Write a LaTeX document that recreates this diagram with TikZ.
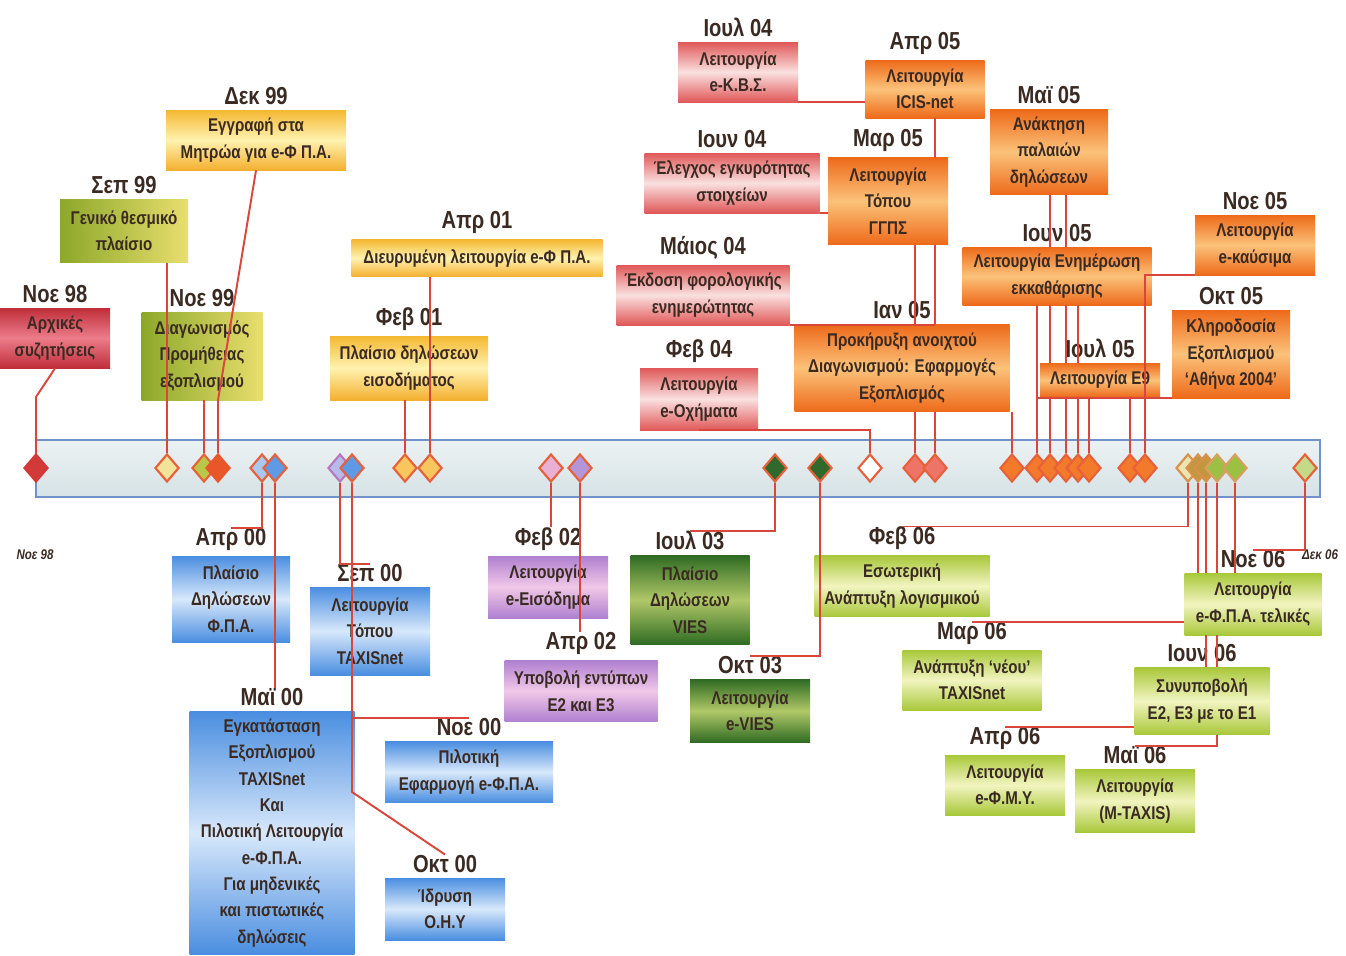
\documentclass[tikz,border=0pt]{standalone}
\usepackage{fontspec}
\setmainfont[FakeStretch=0.82]{Liberation Sans}
\usepackage{tikz}
\usetikzlibrary{shapes.geometric, positioning}

\definecolor{lineRed}{HTML}{D9463C}
\definecolor{txtDark}{HTML}{3A2A22}
\definecolor{axisBlue}{HTML}{6F93C9}
\definecolor{msOrange}{HTML}{F27A2A}
\definecolor{msEdge}{HTML}{E8603A}

\tikzstyle{conn} = [draw=lineRed, line width=1.1pt]
\tikzstyle{event} = [rectangle, align=center, inner sep=1pt, text=txtDark, font=\fontsize{10.5}{15}\selectfont\bfseries]
\tikzstyle{datelabel} = [inner sep=0pt, text=txtDark, font=\fontsize{14}{16}\selectfont\bfseries]
\tikzstyle{endlabel} = [inner sep=0pt, text=txtDark, font=\fontsize{8}{9}\selectfont\bfseries\itshape]
\tikzstyle{milestone} = [diamond, inner sep=0pt, minimum width=4.8mm, minimum height=5.6mm, line width=1.2pt]
\tikzstyle{timebar} = [draw=axisBlue, line width=1.4pt, top color={rgb,255:red,236;green,242;blue,243}, bottom color={rgb,255:red,214;green,226;blue,230}]
\tikzstyle{redBox} = [event, top color={rgb,255:red,192;green,46;blue,58}, bottom color={rgb,255:red,192;green,46;blue,58}, middle color={rgb,255:red,236;green,124;blue,138}]
\tikzstyle{oliveBox} = [event, left color={rgb,255:red,140;green,168;blue,42}, right color={rgb,255:red,232;green,222;blue,110}]
\tikzstyle{yellowBox} = [event, top color={rgb,255:red,244;green,184;blue,48}, bottom color={rgb,255:red,244;green,176;blue,48}, middle color={rgb,255:red,255;green,242;blue,176}]
\tikzstyle{pinkBox} = [event, top color={rgb,255:red,224;green,88;blue,88}, bottom color={rgb,255:red,224;green,88;blue,88}, middle color={rgb,255:red,250;green,224;blue,224}]
\tikzstyle{orangeBox} = [event, top color={rgb,255:red,238;green,106;blue,26}, bottom color={rgb,255:red,238;green,106;blue,26}, middle color={rgb,255:red,251;green,194;blue,122}]
\tikzstyle{blueBox} = [event, top color={rgb,255:red,74;green,142;blue,224}, bottom color={rgb,255:red,74;green,142;blue,224}, middle color={rgb,255:red,216;green,232;blue,251}]
\tikzstyle{purpleBox} = [event, top color={rgb,255:red,176;green,128;blue,208}, bottom color={rgb,255:red,176;green,128;blue,208}, middle color={rgb,255:red,240;green,200;blue,232}]
\tikzstyle{greenBox} = [event, top color={rgb,255:red,47;green,107;blue,34}, bottom color={rgb,255:red,47;green,107;blue,34}, middle color={rgb,255:red,176;green,200;blue,104}]
\tikzstyle{limeBox} = [event, top color={rgb,255:red,168;green,200;blue,58}, bottom color={rgb,255:red,168;green,200;blue,58}, middle color={rgb,255:red,242;green,244;blue,192}]
\tikzset{sz/.style 2 args={minimum width=#1*0.2mm, minimum height=#2*0.2mm}}

\begin{document}
\begin{tikzpicture}[x=0.2mm, y=-0.2mm]
\useasboundingbox (0,0) rectangle (1346,955);
% time axis
\path[timebar] (36,440) rectangle (1320,497);
\node (lStart) [endlabel] at (35,555) {Νοε 98};
\node (lEnd) [endlabel] at (1320,555) {Δεκ 06};

% events above the axis
\node (bNov98) [redBox, sz={110}{60}] at (55,338) {Αρχικές\\συζητήσεις};
\node (bSep99) [oliveBox, sz={128}{63}] at (124,231) {Γενικό θεσμικό\\πλαίσιο};
\node (bDec99) [yellowBox, sz={180}{60}] at (256,140) {Εγγραφή στα\\Μητρώα για e-Φ Π.Α.};
\node (bNov99) [oliveBox, sz={121}{88}] at (202,356) {Διαγωνισμός\\Προμήθειας\\εξοπλισμού};
\node (bApr01) [yellowBox, sz={251}{37}] at (477,258) {Διευρυμένη λειτουργία e-Φ Π.Α.};
\node (bFeb01) [yellowBox, sz={158}{64}] at (409,368) {Πλαίσιο δηλώσεων\\εισοδήματος};
\node (bJul04) [pinkBox, sz={120}{60}] at (738,72) {Λειτουργία\\e-Κ.Β.Σ.};
\node (bJun04) [pinkBox, sz={175}{60}] at (732,183) {Έλεγχος εγκυρότητας\\στοιχείων};
\node (bMay04) [pinkBox, sz={173}{60}] at (703,295) {Έκδοση φορολογικής\\ενημερώτητας};
\node (bFeb04) [pinkBox, sz={118}{62}] at (699,399) {Λειτουργία\\e-Οχήματα};
\node (bApr05) [orangeBox, sz={119}{58}] at (925,89) {Λειτουργία\\ICIS-net};
\node (bMar05) [orangeBox, sz={120}{87}] at (888,201) {Λειτουργία\\Τόπου\\ΓΓΠΣ};
\node (bMay05) [orangeBox, sz={118}{85}] at (1049,152) {Ανάκτηση\\παλαιών\\δηλώσεων};
\node (bJun05) [orangeBox, sz={189}{58}] at (1057,276) {Λειτουργία Ενημέρωση\\εκκαθάρισης};
\node (bNov05) [orangeBox, sz={120}{60}] at (1255,245) {Λειτουργία\\e-καύσιμα};
\node (bOct05) [orangeBox, sz={118}{88}] at (1231,354) {Κληροδοσία\\Εξοπλισμού\\`Αθήνα 2004'};
\node (bJul05) [orangeBox, sz={120}{34}] at (1100,380) {Λειτουργία Ε9};
\node (bJan05) [orangeBox, sz={215}{87}] at (902,368) {Προκήρυξη ανοιχτού\\Διαγωνισμού: Εφαρμογές\\Εξοπλισμός};

% events below the axis
\node (bApr00) [blueBox, sz={118}{86}] at (231,599) {Πλαίσιο\\Δηλώσεων\\Φ.Π.Α.};
\node (bSep00) [blueBox, sz={120}{88}] at (370,631) {Λειτουργία\\Τόπου\\TAXISnet};
\node (bMay00) [blueBox, sz={165}{243}] at (272,833) {Εγκατάσταση\\Εξοπλισμού\\TAXISnet\\Και\\Πιλοτική Λειτουργία\\e-Φ.Π.Α.\\Για μηδενικές\\και πιστωτικές\\δηλώσεις};
\node (bNov00) [blueBox, sz={168}{61}] at (469,772) {Πιλοτική\\Εφαρμογή e-Φ.Π.Α.};
\node (bOct00) [blueBox, sz={120}{62}] at (445,909) {Ίδρυση\\Ο.Η.Υ};
\node (bFeb02) [purpleBox, sz={120}{62}] at (548,587) {Λειτουργία\\e-Εισόδημα};
\node (bApr02) [purpleBox, sz={153}{61}] at (581,691) {Υποβολή εντύπων\\Ε2 και Ε3};
\node (bJul03) [greenBox, sz={119}{89}] at (690,600) {Πλαίσιο\\Δηλώσεων\\VIES};
\node (bOct03) [greenBox, sz={120}{63}] at (750,711) {Λειτουργία\\e-VIES};
\node (bFeb06) [limeBox, sz={175}{61}] at (902,586) {Εσωτερική\\Ανάπτυξη λογισμικού};
\node (bMar06) [limeBox, sz={139}{60}] at (972,680) {Ανάπτυξη `νέου'\\TAXISnet};
\node (bApr06) [limeBox, sz={120}{60}] at (1005,785) {Λειτουργία\\e-Φ.Μ.Υ.};
\node (bMay06) [limeBox, sz={120}{63}] at (1135,801) {Λειτουργία\\(M-TAXIS)};
\node (bJun06) [limeBox, sz={135}{67}] at (1202,701) {Συνυποβολή\\Ε2, Ε3 με το Ε1};
\node (bNov06) [limeBox, sz={137}{62}] at (1253,604) {Λειτουργία\\e-Φ.Π.Α. τελικές};

% date labels
\node (lNov98) [datelabel, above=1mm of bNov98] {Νοε 98};
\node (lSep99) [datelabel, above=1mm of bSep99] {Σεπ 99};
\node (lDec99) [datelabel, above=1mm of bDec99] {Δεκ 99};
\node (lNov99) [datelabel, above=1mm of bNov99] {Νοε 99};
\node (lApr01) [datelabel, above=1mm of bApr01] {Απρ 01};
\node (lFeb01) [datelabel, above=1mm of bFeb01] {Φεβ 01};
\node (lJul04) [datelabel, above=1mm of bJul04] {Ιουλ 04};
\node (lJun04) [datelabel, above=1mm of bJun04] {Ιουν 04};
\node (lMay04) [datelabel, above=1mm of bMay04] {Μάιος 04};
\node (lFeb04) [datelabel, above=1mm of bFeb04] {Φεβ 04};
\node (lApr05) [datelabel, above=1mm of bApr05] {Απρ 05};
\node (lMar05) [datelabel, above=1mm of bMar05] {Μαρ 05};
\node (lMay05) [datelabel, above=1mm of bMay05] {Μαϊ 05};
\node (lJun05) [datelabel, above=1mm of bJun05] {Ιουν 05};
\node (lNov05) [datelabel, above=1mm of bNov05] {Νοε 05};
\node (lOct05) [datelabel, above=1mm of bOct05] {Οκτ 05};
\node (lJul05) [datelabel, above=1mm of bJul05] {Ιουλ 05};
\node (lJan05) [datelabel, above=1mm of bJan05] {Ιαν 05};
\node (lApr00) [datelabel, above=1mm of bApr00] {Απρ 00};
\node (lSep00) [datelabel, above=1mm of bSep00] {Σεπ 00};
\node (lMay00) [datelabel, above=1mm of bMay00] {Μαϊ 00};
\node (lNov00) [datelabel, above=1mm of bNov00] {Νοε 00};
\node (lOct00) [datelabel, above=1mm of bOct00] {Οκτ 00};
\node (lFeb02) [datelabel, above=1mm of bFeb02] {Φεβ 02};
\node (lApr02) [datelabel, above=1mm of bApr02] {Απρ 02};
\node (lJul03) [datelabel, above=1mm of bJul03] {Ιουλ 03};
\node (lOct03) [datelabel, above=1mm of bOct03] {Οκτ 03};
\node (lFeb06) [datelabel, above=1mm of bFeb06] {Φεβ 06};
\node (lMar06) [datelabel, above=1mm of bMar06] {Μαρ 06};
\node (lApr06) [datelabel, above=1mm of bApr06] {Απρ 06};
\node (lMay06) [datelabel, above=1mm of bMay06] {Μαϊ 06};
\node (lJun06) [datelabel, above=1mm of bJun06] {Ιουν 06};
\node (lNov06) [datelabel, above=1mm of bNov06] {Νοε 06};

% milestones on the axis
\node (d01) [milestone, fill={rgb,255:red,210;green,58;blue,58}, draw={rgb,255:red,210;green,58;blue,58}] at (36,468) {};
\node (d02) [milestone, fill={rgb,255:red,242;green,227;blue,154}, draw=msEdge] at (167,468) {};
\node (d03) [milestone, fill={rgb,255:red,185;green,200;blue,72}, draw=msEdge] at (204,468) {};
\node (d04) [milestone, fill={rgb,255:red,232;green,86;blue,42}, draw={rgb,255:red,232;green,86;blue,42}] at (218,468) {};
\node (d05) [milestone, fill={rgb,255:red,168;green,200;blue,240}, draw=msEdge] at (262,468) {};
\node (d06) [milestone, fill={rgb,255:red,94;green,154;blue,230}, draw=msEdge] at (275,468) {};
\node (d07) [milestone, fill={rgb,255:red,180;green,188;blue,236}, draw={rgb,255:red,184;green,120;blue,184}] at (340,468) {};
\node (d08) [milestone, fill={rgb,255:red,94;green,154;blue,230}, draw=msEdge] at (352,468) {};
\node (d09) [milestone, fill={rgb,255:red,248;green,198;blue,92}, draw=msEdge] at (405,468) {};
\node (d10) [milestone, fill={rgb,255:red,248;green,198;blue,92}, draw=msEdge] at (430,468) {};
\node (d11) [milestone, fill={rgb,255:red,234;green,176;blue,212}, draw=msEdge] at (551,468) {};
\node (d12) [milestone, fill={rgb,255:red,180;green,150;blue,216}, draw=msEdge] at (580,468) {};
\node (d13) [milestone, fill={rgb,255:red,47;green,106;blue,44}, draw=msEdge] at (775,468) {};
\node (d14) [milestone, fill={rgb,255:red,47;green,106;blue,44}, draw=msEdge] at (820,468) {};
\node (d15) [milestone, fill=white, draw=msEdge] at (870,468) {};
\node (d16) [milestone, fill={rgb,255:red,238;green,116;blue,104}, draw=msEdge] at (915,468) {};
\node (d17) [milestone, fill={rgb,255:red,238;green,116;blue,104}, draw=msEdge] at (935,468) {};
\node (d18) [milestone, fill=msOrange, draw=msEdge] at (1012,468) {};
\node (d19) [milestone, fill=msOrange, draw=msEdge] at (1037,468) {};
\node (d20) [milestone, fill=msOrange, draw=msEdge] at (1050,468) {};
\node (d21) [milestone, fill=msOrange, draw=msEdge] at (1066,468) {};
\node (d22) [milestone, fill=msOrange, draw=msEdge] at (1078,468) {};
\node (d23) [milestone, fill=msOrange, draw=msEdge] at (1089,468) {};
\node (d24) [milestone, fill=msOrange, draw=msEdge] at (1130,468) {};
\node (d25) [milestone, fill=msOrange, draw=msEdge] at (1145,468) {};
\node (d26) [milestone, fill={rgb,255:red,238;green,228;blue,176}, draw={rgb,255:red,216;green,144;blue,74}] at (1188,468) {};
\node (d27) [milestone, fill={rgb,255:red,196;green,150;blue,62}, draw={rgb,255:red,216;green,144;blue,74}] at (1198,468) {};
\node (d28) [milestone, fill={rgb,255:red,196;green,150;blue,62}, draw={rgb,255:red,216;green,144;blue,74}] at (1206,468) {};
\node (d29) [milestone, fill={rgb,255:red,156;green,192;blue,68}, draw={rgb,255:red,216;green,160;blue,96}] at (1217,468) {};
\node (d30) [milestone, fill={rgb,255:red,156;green,192;blue,68}, draw={rgb,255:red,216;green,160;blue,96}] at (1235,468) {};
\node (d31) [milestone, fill={rgb,255:red,196;green,218;blue,136}, draw=msEdge] at (1305,468) {};

% connectors above the axis
\coordinate (kNov98) at (36,397);
\draw[conn] (d01) -- (kNov98) -- (bNov98.south);
\draw[conn] (d02) -- (d02 |- bSep99.south);
\draw[conn] (d03) -- (d03 |- bNov99.south);
\draw[conn] (d04) -- (d04 |- bNov99.south) -- (bDec99.south);
\draw[conn] (d09) -- (d09 |- bFeb01.south);
\draw[conn] (d10) -- (d10 |- bApr01.south);
\draw[conn] (d15) |- (bFeb04.south);
\draw[conn] (d16) -- (d16 |- bJan05.south);
\draw[conn] (d16 |- bJan05.north) -- (d16 |- bMar05.south);
\draw[conn] (d17) -- (d17 |- bJan05.south);
\draw[conn] (d17 |- bJan05.north) -- (d17 |- bMar05.south);
\draw[conn] (bMay04.south east) -- (bMay04.south east -| d17);
\draw[conn] (bJun04.south east) -- (bJun04.south east -| bMar05.west);
\draw[conn] (bJul04.south east) -- (bJul04.south east -| bApr05.west);
\draw[conn] (bApr05.south -| d17) -- (bMar05.north -| d17);
\draw[conn] (d18) -- (d18 |- bJan05.south);
\draw[conn] (bMay05.south -| d20) -- (bJun05.north -| d20);
\draw[conn] (bMay05.south -| d21) -- (bJun05.north -| d21);
\draw[conn] (d19) -- (d19 |- bJun05.south);
\draw[conn] (d20) -- (d20 |- bJul05.south);
\draw[conn] (d20 |- bJul05.north) -- (d20 |- bJun05.south);
\draw[conn] (d21) -- (d21 |- bJul05.south);
\draw[conn] (d21 |- bJul05.north) -- (d21 |- bJun05.south);
\draw[conn] (d22) -- (d22 |- bJul05.south);
\draw[conn] (d22 |- bJul05.north) -- (d22 |- bJun05.south);
\draw[conn] (d23) -- (d23 |- bJul05.south);
\draw[conn] (bOct05.south west) -- (bOct05.south west -| d19);
\draw[conn] (d24) -- (d24 |- bOct05.south);
\draw[conn] (d25) |- (bNov05.south west);

% connectors below the axis
\coordinate (kOct00) at (352,792);
\draw[conn] (d05) |- (lApr00.north);
\draw[conn] (d06) -- (d06 |- lMay00.north);
\draw[conn] (d07) |- (lSep00.north);
\draw[conn] (d08) -- (kOct00) -- (lOct00.north);
\draw[conn] (d08 |- lNov00.north) -- (lNov00.north);
\draw[conn] (d11) -- (d11 |- lFeb02.north);
\draw[conn] (d12) -- (d12 |- lApr02.north);
\draw[conn] (d13) |- (lJul03.north);
\draw[conn] (d14) |- (lOct03.north);
\draw[conn] (d26) |- (lFeb06.north);
\draw[conn] (d27) -- (d27 |- bNov06.north);
\draw[conn] (d28) -- (d28 |- bNov06.north);
\draw[conn] (d29) -- (d29 |- bNov06.north);
\draw[conn] (d30) -- (d30 |- bNov06.north);
\draw[conn] (bNov06.south -| d28) -- (bJun06.north -| d28);
\draw[conn] (bNov06.south -| d29) -- (bJun06.north -| d29);
\draw[conn] (lMar06.north) -- (lMar06.north -| bNov06.west);
\draw[conn] (lApr06.north) -- (lApr06.north -| bJun06.west);
\draw[conn] (bJun06.south -| d29) |- (lMay06.north);
\draw[conn] (d31) |- (lNov06.north);
\end{tikzpicture}
\end{document}
